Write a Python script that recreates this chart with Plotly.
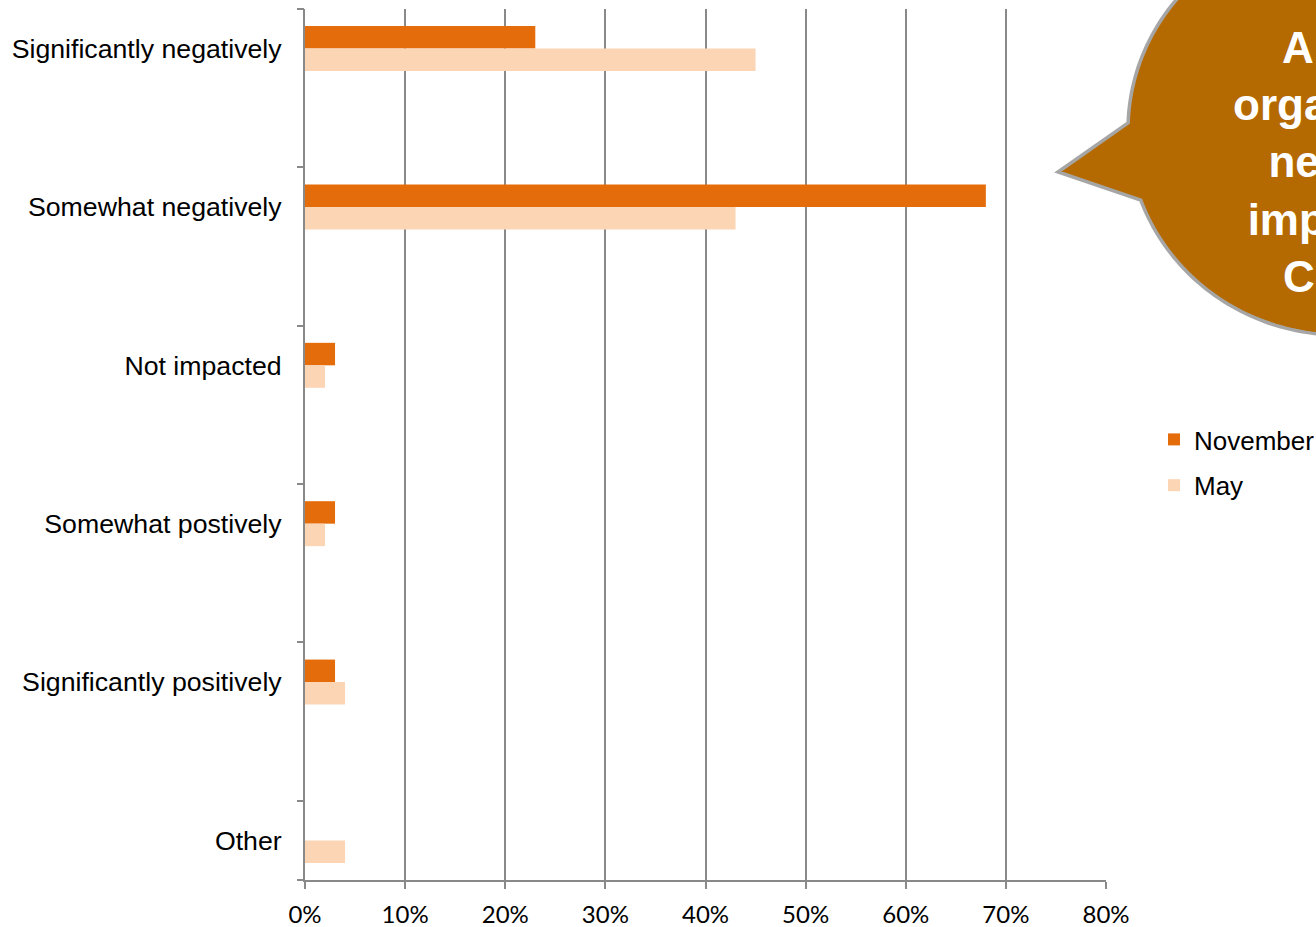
import numpy as np
import plotly.graph_objects as go

# Survey responses: impact on the organisation
categories = [
    "Significantly negatively",
    "Somewhat negatively",
    "Not impacted",
    "Somewhat postively",
    "Significantly positively",
    "Other",
]
november = [0.23, 0.68, 0.03, 0.03, 0.03, 0.00]
may = [0.45, 0.43, 0.02, 0.02, 0.04, 0.04]
x_ticks = [0, 0.1, 0.2, 0.3, 0.4, 0.5, 0.6, 0.7, 0.8]
callout_lines = ["All of the", "organizations", "negatively", "impacted by", "Covid-19"]

W, H = 1316, 927
ML, MR, MT, MB = 305, 210, 9, 47
PW, PH = W - ML - MR, H - MT - MB

pos = list(range(len(categories)))
half_ticks = [p - 0.25 for p in pos] + [pos[-1] + 0.25]
GRID = "#898989"


def px(x):
    return (x - ML) / PW


def py(y):
    return (H - MB - y) / PH


fig = go.Figure()
fig.add_trace(go.Bar(
    y=pos, x=november, name="November", orientation="h",
    marker=dict(color="#E46C0A", line=dict(width=0)),
    legendgroup="nov",
))
fig.add_trace(go.Bar(
    y=pos, x=may, name="May", orientation="h",
    marker=dict(color="#FCD5B5", line=dict(width=0)),
    legendgroup="may",
))
# invisible trace carrying the half-step tick marks on the category axis
fig.add_trace(go.Scatter(x=[None], y=[None], yaxis="y2", showlegend=False, hoverinfo="skip"))

# speech-bubble callout: ellipse outline with a pointer to the left
cx, cy, rx, ry = 1340, 130, 212, 205
tip = (1058, 172)
t = np.radians(np.linspace(182, 520, 240))
xs = cx + rx * np.cos(t)
ys = cy + ry * np.sin(t)
pts = list(zip(xs, ys)) + [tip]
path = "M " + " L ".join(f"{px(a):.5f},{py(b):.5f}" for a, b in pts) + " Z"

fig.update_layout(
    width=W, height=H,
    margin=dict(l=ML, r=MR, t=MT, b=MB, pad=0, autoexpand=False),
    paper_bgcolor="white", plot_bgcolor="white",
    barmode="group", bargap=0.716, bargroupgap=0,
    font=dict(family="Liberation Sans, Arial", color="black"),
    xaxis=dict(
        range=[0, 0.8], tickvals=x_ticks, tickformat=".0%",
        showgrid=True, gridcolor=GRID, gridwidth=2,
        showline=True, linecolor=GRID, linewidth=2,
        ticks="outside", ticklen=7, tickcolor=GRID, tickwidth=2,
        ticklabelstandoff=5,
        tickfont=dict(family="Lato", size=24, color="black"),
        zeroline=False, fixedrange=True,
    ),
    yaxis=dict(
        range=[pos[-1] + 0.25, -0.25], tickvals=pos, ticktext=categories,
        showgrid=False, zeroline=False,
        showline=True, linecolor=GRID, linewidth=2,
        ticks="", ticklabelstandoff=16,
        tickfont=dict(family="Liberation Sans, Arial", size=26.7, color="black"),
    ),
    yaxis2=dict(
        range=[pos[-1] + 0.25, -0.25], overlaying="y", side="left",
        tickvals=half_ticks, showticklabels=False, showgrid=False,
        zeroline=False, showline=False,
        ticks="outside", ticklen=7, tickcolor=GRID, tickwidth=2,
    ),
    legend=dict(
        x=px(1154), y=py(416), xanchor="left", yanchor="top",
        font=dict(family="Liberation Sans, Arial", size=26, color="black"),
        traceorder="grouped", tracegroupgap=9, bgcolor="rgba(0,0,0,0)",
        itemwidth=30,
    ),
    shapes=[dict(
        type="path", xref="paper", yref="paper", path=path,
        fillcolor="#B46A00", line=dict(color="#A6A6A6", width=3.5), layer="above",
    )],
    annotations=[dict(
        xref="paper", yref="paper", x=px(1376), y=py(162),
        xanchor="center", yanchor="middle", showarrow=False,
        text="<br>".join(callout_lines), align="center",
        font=dict(family="Liberation Sans, Arial", size=44, color="white", weight="bold"),
    )],
)

fig.write_html("out.html")
